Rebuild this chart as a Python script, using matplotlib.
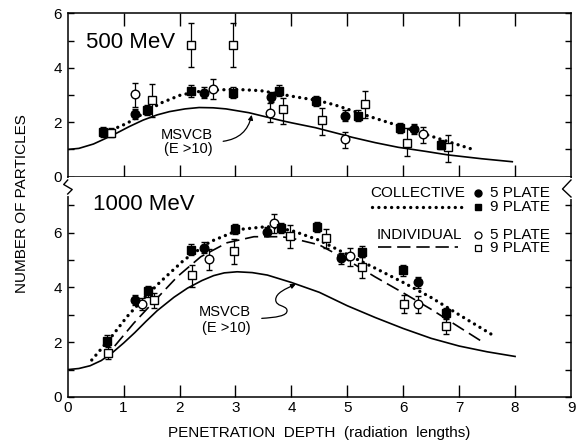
import matplotlib
matplotlib.use('Agg')
import matplotlib.pyplot as plt
from matplotlib.path import Path
from matplotlib.patches import FancyArrowPatch
from matplotlib.lines import Line2D

plt.rcParams['font.family'] = ['Liberation Sans', 'DejaVu Sans']

# ---------------- DATA ----------------
# 500 MeV panel
top_msvcb_x = [0.0, 0.2, 0.46, 0.81, 1.1, 1.35, 1.6, 1.82, 2.1, 2.35, 2.6, 2.83, 3.24, 3.5, 3.78, 4.0, 4.43, 4.9, 5.08, 5.5, 5.91, 6.4, 6.8, 7.4, 7.95]
top_msvcb_y = [1.0, 1.04, 1.2, 1.53, 1.84, 2.08, 2.27, 2.39, 2.49, 2.54, 2.53, 2.49, 2.35, 2.22, 2.08, 1.98, 1.8, 1.55, 1.45, 1.25, 1.08, 0.93, 0.8, 0.66, 0.55]
top_coll_x = [0.79, 1.06, 1.36, 1.66, 2.02, 2.43, 2.97, 3.45, 4.05, 4.47, 4.77, 5.49, 6.15, 6.8, 7.28]
top_coll_y = [1.72, 1.96, 2.33, 2.7, 3.0, 3.16, 3.21, 3.16, 2.94, 2.8, 2.64, 2.15, 1.72, 1.29, 0.98]

top_c5_x = [1.21, 2.44, 3.64, 4.95, 6.19]
top_c5_y = [2.30, 3.09, 2.94, 2.24, 1.75]
top_c5_e = [0.18, 0.2, 0.18, 0.2, 0.18]
top_c9_x = [0.63, 1.41, 2.21, 2.95, 3.78, 4.44, 5.19, 5.94, 6.67]
top_c9_y = [1.63, 2.45, 3.16, 3.09, 3.16, 2.78, 2.24, 1.78, 1.17]
top_c9_e = [0.18, 0.2, 0.22, 0.2, 0.2, 0.18, 0.2, 0.18, 0.16]
top_i5_x = [1.20, 2.59, 3.61, 4.95, 6.35]
top_i5_y = [3.03, 3.21, 2.35, 1.37, 1.57]
top_i5_lo = [0.48, 0.36, 0.33, 0.33, 0.34]
top_i5_hi = [0.40, 0.39, 0.35, 0.28, 0.27]
top_i9_x = [0.78, 1.51, 2.21, 2.95, 3.85, 4.55, 5.32, 6.06, 6.80]
top_i9_y = [1.62, 2.82, 4.84, 4.84, 2.48, 2.08, 2.67, 1.25, 1.08]
top_i9_lo = [0.15, 0.62, 0.80, 0.80, 0.54, 0.55, 0.52, 0.49, 0.53]
top_i9_hi = [0.15, 0.58, 0.80, 0.80, 0.40, 0.46, 0.49, 0.53, 0.45]

# 1000 MeV panel
bot_msvcb_x = [0.0, 0.2, 0.4, 0.6, 0.8, 1.0, 1.2, 1.4, 1.6, 1.9, 2.14, 2.4, 2.61, 2.8, 3.03, 3.3, 3.57, 4.0, 4.5, 5.0, 5.5, 6.0, 6.5, 7.0, 7.5, 8.0]
bot_msvcb_y = [1.0, 1.04, 1.14, 1.33, 1.62, 1.97, 2.35, 2.76, 3.15, 3.64, 3.97, 4.25, 4.43, 4.53, 4.57, 4.54, 4.45, 4.18, 3.82, 3.33, 2.9, 2.5, 2.14, 1.86, 1.65, 1.48]
bot_coll_x = [0.43, 0.76, 1.06, 1.36, 1.66, 2.08, 2.55, 3.09, 3.57, 4.0, 4.5, 5.0, 5.5, 6.0, 6.5, 7.0, 7.6]
bot_coll_y = [1.35, 2.14, 2.93, 3.6, 4.21, 5.0, 5.67, 6.12, 6.22, 6.08, 5.72, 5.2, 4.7, 4.18, 3.63, 3.0, 2.26]
bot_ind_x = [0.84, 1.18, 1.54, 1.96, 2.38, 2.85, 3.33, 3.81, 4.0, 4.5, 5.0, 5.5, 6.0, 6.5, 7.0, 7.45]
bot_ind_y = [1.86, 2.69, 3.48, 4.39, 5.12, 5.63, 5.85, 5.85, 5.8, 5.55, 5.0, 4.38, 3.8, 3.2, 2.55, 1.97]

bot_c5_x = [1.20, 2.44, 3.56, 4.88, 6.26]
bot_c5_y = [3.54, 5.44, 6.04, 5.07, 4.18]
bot_c5_e = [0.2, 0.2, 0.18, 0.2, 0.2]
bot_c9_x = [0.71, 1.44, 2.21, 3.00, 3.81, 4.45, 5.26, 6.00, 6.77]
bot_c9_y = [2.06, 3.86, 5.38, 6.14, 6.18, 6.20, 5.31, 4.63, 3.05]
bot_c9_e = [0.2, 0.2, 0.2, 0.18, 0.18, 0.18, 0.2, 0.2, 0.2]
bot_i5_x = [1.33, 2.52, 3.69, 5.04, 6.26]
bot_i5_y = [3.40, 5.04, 6.36, 5.13, 3.38]
bot_i5_lo = [0.22, 0.41, 0.38, 0.35, 0.32]
bot_i5_hi = [0.22, 0.36, 0.33, 0.30, 0.30]
bot_i9_x = [0.72, 1.54, 2.22, 2.98, 3.97, 4.61, 5.27, 6.01, 6.77]
bot_i9_y = [1.62, 3.54, 4.45, 5.33, 5.88, 5.80, 4.73, 3.41, 2.59]
bot_i9_lo = [0.22, 0.30, 0.42, 0.46, 0.44, 0.38, 0.40, 0.35, 0.30]
bot_i9_hi = [0.22, 0.24, 0.38, 0.42, 0.40, 0.33, 0.38, 0.30, 0.28]

x_ticks = [0, 1, 2, 3, 4, 5, 6, 7, 8, 9]

# ---------------- LAYOUT ----------------
W, H = 576, 442
fig = plt.figure(figsize=(W / 100, H / 100), dpi=100)

def fx(px):
    return px / W

def fy(py):
    return 1 - py / H

L, R = 67.7, 571.0
TOP, MID, BOT = 13.3, 176.7, 397.0

ax1 = fig.add_axes([fx(L), fy(MID), fx(R) - fx(L), fy(TOP) - fy(MID)])
ax2 = fig.add_axes([fx(L), fy(BOT), fx(R) - fx(L), fy(MID) - fy(BOT)])

ax1.set_xlim(0, 9)
ax1.set_ylim(0, 6)
ax2.set_xlim(0, 9)
ax2.set_ylim(0, (BOT - MID) / 27.4)

LW = 1.1
for ax in (ax1, ax2):
    for s in ax.spines.values():
        s.set_linewidth(LW)
ax2.spines['top'].set_visible(False)

FS_TICK = 11
# top axes ticks
ax1.set_xticks([1, 2, 3, 4, 5, 6, 7, 8])
ax1.tick_params(axis='x', which='major', direction='in', length=9, width=1,
                top=True, bottom=True, labelbottom=False)
ax1.set_yticks([0, 2, 4, 6])
ax1.set_yticks([1, 3, 5], minor=True)
ax1.tick_params(axis='y', which='both', direction='in', length=4.5, width=1,
                left=True, right=True, labelsize=FS_TICK, pad=4)

# bottom axes ticks
ax2.set_xticks(x_ticks)
ax2.set_xticklabels([str(t) for t in x_ticks])
ax2.tick_params(axis='x', which='major', direction='in', length=9, width=1,
                top=False, bottom=True, labelsize=FS_TICK, pad=3)
ax2.set_yticks([0, 2, 4, 6])
ax2.set_yticks([1, 3, 5, 7], minor=True)
ax2.tick_params(axis='y', which='both', direction='in', length=4.5, width=1,
                left=True, right=True, labelsize=FS_TICK, pad=4)
for t in ax2.xaxis.get_major_ticks():
    if t.get_loc() in (0, 9):
        t.tick1line.set_visible(False)
ax2.get_xticklabels()[0].set_x(0.08)

DOT = dict(color='k', lw=2.4, linestyle=(0, (0.01, 1.9)), dash_capstyle='round')
DASH = dict(color='k', lw=1.2, linestyle=(0, (8, 3.5)))
SOL = dict(color='k', lw=1.2)

def points(ax, x, y, yerr, marker, filled):
    ax.errorbar(x, y, yerr=yerr, fmt=marker, ms=6.2,
                mfc='k' if filled else 'white', mec='k', mew=1.0,
                ecolor='k', elinewidth=0.9, capsize=2.2, capthick=0.9, zorder=4)

# top panel
ax1.plot(top_msvcb_x, top_msvcb_y, **SOL, zorder=2)
ax1.plot(top_coll_x, top_coll_y, **DOT, zorder=2)
points(ax1, top_i5_x, top_i5_y, [top_i5_lo, top_i5_hi], 'o', False)
points(ax1, top_i9_x, top_i9_y, [top_i9_lo, top_i9_hi], 's', False)
points(ax1, top_c5_x, top_c5_y, top_c5_e, 'o', True)
points(ax1, top_c9_x, top_c9_y, top_c9_e, 's', True)

# bottom panel
ax2.plot(bot_msvcb_x, bot_msvcb_y, **SOL, zorder=2)
ax2.plot(bot_coll_x, bot_coll_y, **DOT, zorder=2)
ax2.plot(bot_ind_x, bot_ind_y, **DASH, zorder=2)
points(ax2, bot_i5_x, bot_i5_y, [bot_i5_lo, bot_i5_hi], 'o', False)
points(ax2, bot_i9_x, bot_i9_y, [bot_i9_lo, bot_i9_hi], 's', False)
points(ax2, bot_c5_x, bot_c5_y, bot_c5_e, 'o', True)
points(ax2, bot_c9_x, bot_c9_y, bot_c9_e, 's', True)

# panel titles
ax1.text(0.33, 4.92, '500 MeV', fontsize=16, ha='left', va='center')
ax2.text(0.45, 7.04, '1000 MeV', fontsize=16, ha='left', va='center')

# MSVCB labels and arrows
FS_LAB = 10.5
ax1.text(2.13, 1.53, 'MSVCB', fontsize=FS_LAB, ha='center', va='center')
ax1.text(2.15, 1.01, '(E >10)', fontsize=FS_LAB, ha='center', va='center')
ax1.annotate('', xy=(3.29, 2.27), xytext=(2.78, 1.3),
             arrowprops=dict(arrowstyle='-|>', connectionstyle='arc3,rad=0.35',
                             lw=0.9, color='k', mutation_scale=7, shrinkA=0, shrinkB=0))

ax2.text(2.81, 3.11, 'MSVCB', fontsize=FS_LAB, ha='center', va='center')
ax2.text(2.83, 2.51, '(E >10)', fontsize=FS_LAB, ha='center', va='center')
sq_verts = [(3.47, 2.87), (3.70, 2.90), (3.95, 2.95), (3.92, 3.18),
            (3.90, 3.35), (3.72, 3.30), (3.72, 3.55),
            (3.72, 3.80), (3.90, 3.95), (4.08, 4.12)]
sq_codes = [Path.MOVETO] + [Path.CURVE4] * 9
sq = FancyArrowPatch(path=Path(sq_verts, sq_codes), arrowstyle='-|>',
                     mutation_scale=7, lw=0.9, color='k', transform=ax2.transData)
ax2.add_patch(sq)

# legend (manual)
FS_LEG = 11
ax2.text(5.41, 7.45, 'COLLECTIVE', fontsize=FS_LEG, ha='left', va='center')
ax2.plot([7.34], [7.45], 'o', ms=5, color='k')
ax2.text(7.55, 7.45, '5 PLATE', fontsize=FS_LEG, ha='left', va='center')
ax2.plot([5.45, 7.05], [6.92, 6.92], **DOT)
ax2.plot([7.34], [6.92], 's', ms=5, color='k')
ax2.text(7.55, 6.92, '9 PLATE', fontsize=FS_LEG, ha='left', va='center')
ax2.text(5.53, 5.93, 'INDIVIDUAL', fontsize=FS_LEG, ha='left', va='center')
ax2.plot([7.34], [5.93], 'o', ms=5, mfc='white', mec='k', mew=0.9)
ax2.text(7.55, 5.93, '5 PLATE', fontsize=FS_LEG, ha='left', va='center')
ax2.plot([5.55, 6.98], [5.47, 5.47], **DASH)
ax2.plot([7.34], [5.45], 's', ms=5, mfc='white', mec='k', mew=0.9)
ax2.text(7.55, 5.45, '9 PLATE', fontsize=FS_LEG, ha='left', va='center')

# axis labels
ax2.set_xlabel('PENETRATION  DEPTH  (radiation  lengths)', fontsize=11, labelpad=8)
fig.text(fx(22), fy(204), 'NUMBER OF PARTICLES', rotation=90, fontsize=11,
         ha='center', va='center')

# axis break marks
def fig_line(pts, **kw):
    xs = [fx(p[0]) for p in pts]
    ys = [fy(p[1]) for p in pts]
    fig.add_artist(Line2D(xs, ys, transform=fig.transFigure, **kw))

fig_line([(L, 180.0), (L, 194.0)], color='white', lw=3, zorder=10)
fig_line([(L, 180.0), (L - 4.0, 184.5), (L + 4.5, 189.5), (L, 194.0)],
         color='k', lw=1.0, zorder=11)
fig_line([(R, 180.0), (R, 197.0)], color='white', lw=3, zorder=10)
fig_line([(R, 180.0), (R - 8.5, 189.0), (R, 197.0)], color='k', lw=1.0, zorder=11)

fig.savefig('out.png', dpi=100)
